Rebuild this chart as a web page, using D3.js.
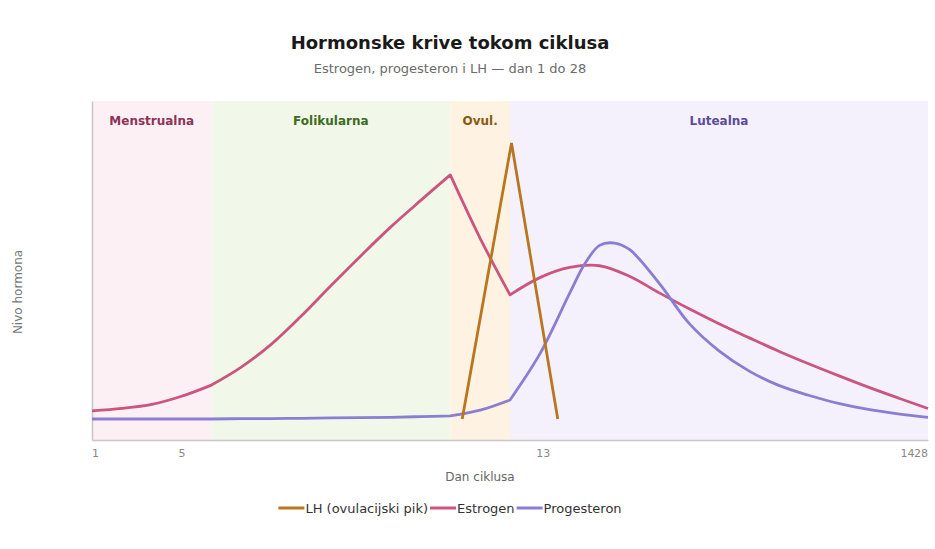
<!DOCTYPE html>
<html>
<head>
<meta charset="utf-8">
<script src="https://cdn.jsdelivr.net/npm/d3@7"></script>
<style>
  body { margin: 0; background: #fff; }
  text { font-family: "DejaVu Sans", sans-serif; }
</style>
</head>
<body>
<div id="chart-area"></div>
<script>
// phases (cycle position, 0 = start of day 1)
var phaseNames = ["Menstrualna", "Folikularna", "Ovul.", "Lutealna"];
var phaseStart = [0, 4, 12, 14];
var phaseEnd = [4, 12, 14, 28];

// x axis labels and where they sit on the axis
var tickLabels = ["1", "5", "13", "14", "28"];
var tickAt = [0.1, 3, 15.1, 27.3, 27.75];

// LH
var lhDays = [12.4, 14.05, 15.6];
var lhValues = [6.2, 87.6, 6.2];

// estrogen
var estrogenDays = [0, 1, 2, 3, 4, 5, 6, 7, 8, 9, 10, 11, 12, 13, 14, 15, 16, 17, 18, 19, 20, 21, 22, 23, 24, 25, 26, 27, 28];
var estrogenValues = [8.6, 9.3, 10.5, 12.9, 16.2, 21.5, 28.2, 36.5, 45.5, 54.3, 62.8, 70.6, 78.2, 59.5, 42.8, 47.9, 50.9, 51.4, 48.3, 43.4, 38.7, 34.3, 30.2, 26.2, 22.5, 19.0, 15.6, 12.4, 9.3];
var estrogenBreaks = [4, 12, 14];

// progesterone
var progDays = [0, 1, 2, 3, 4, 5, 6, 7, 8, 9, 10, 11, 12, 13, 14, 15, 16, 16.5, 17, 17.5, 18, 19, 20, 21, 22, 23, 24, 25, 26, 27, 28];
var progValues = [6.2, 6.2, 6.2, 6.2, 6.2, 6.3, 6.3, 6.4, 6.5, 6.6, 6.7, 6.9, 7.1, 8.8, 11.8, 25.4, 43.3, 51.9, 57.4, 58.1, 56.2, 46.2, 34.4, 26.3, 20.4, 16.1, 13.2, 10.8, 9.0, 7.7, 6.7];
var progBreaks = [12, 14];

var seriesNames = ["LH (ovulacijski pik)", "Estrogen", "Progesteron"];
var seriesColors = ["#b8771f", "#cc5580", "#8a7ed3"];
var phaseFills = ["#fdf0f5", "#f1f8ea", "#fef3e3", "#f4f1fd"];
var phaseText = ["#8e3356", "#3f6b1f", "#8a5a12", "#5b4c9c"];

var width = 935, height = 549;
var plotLeft = 92, plotRight = 928, plotTop = 101, plotBottom = 440;

var svg = d3.select("#chart-area").append("svg")
  .attr("width", width)
  .attr("height", height);

var x = d3.scaleLinear().domain([0, 28]).range([plotLeft, plotRight]);
var y = d3.scaleLinear().domain([0, 100]).range([plotBottom, plotTop]);

// phase bands
svg.selectAll("rect.phase")
  .data(phaseNames)
  .enter().append("rect")
  .attr("class", "phase")
  .attr("x", function (d, i) { return x(phaseStart[i]); })
  .attr("y", plotTop)
  .attr("width", function (d, i) { return x(phaseEnd[i]) - x(phaseStart[i]); })
  .attr("height", plotBottom - plotTop)
  .attr("fill", function (d, i) { return phaseFills[i]; });

svg.selectAll("text.phase")
  .data(phaseNames)
  .enter().append("text")
  .attr("class", "phase")
  .attr("x", function (d, i) { return (x(phaseStart[i]) + x(phaseEnd[i])) / 2; })
  .attr("y", 125)
  .attr("text-anchor", "middle")
  .style("font-size", "12px")
  .style("font-weight", "bold")
  .attr("fill", function (d, i) { return phaseText[i]; })
  .text(function (d) { return d; });

// axes
var xAxis = svg.append("g")
  .attr("transform", "translate(0," + plotBottom + ")")
  .call(d3.axisBottom(x).tickValues(tickAt).tickSize(0).tickSizeOuter(0).tickPadding(9)
    .tickFormat(function (d, i) { return tickLabels[i]; }));
xAxis.select(".domain").attr("stroke", "#c8c8c8").attr("stroke-width", 1.6);
xAxis.selectAll("text").attr("fill", "#888").style("font-size", "11px");

var yAxis = svg.append("g")
  .attr("transform", "translate(" + plotLeft + ",0)")
  .call(d3.axisLeft(y).tickValues([]).tickSizeOuter(0));
yAxis.select(".domain").attr("stroke", "#c8c8c8").attr("stroke-width", 1.6);

// lines: smooth pieces, joined with a corner at each break day
function segmentPath(days, values, breaks) {
  var pts = days.map(function (d, i) { return [d, values[i]]; });
  var cuts = [days[0]].concat(breaks, [days[days.length - 1]]);
  var line = d3.line()
    .x(function (d) { return x(d[0]); })
    .y(function (d) { return y(d[1]); })
    .curve(d3.curveCatmullRom.alpha(0.5));
  var path = "";
  for (var k = 0; k < cuts.length - 1; k++) {
    var seg = pts.filter(function (p) { return p[0] >= cuts[k] && p[0] <= cuts[k + 1]; });
    var s = line(seg);
    path += k === 0 ? s : "L" + s.slice(1);
  }
  return path;
}

var lhLine = d3.line()
  .x(function (d, i) { return x(lhDays[i]); })
  .y(function (d) { return y(d); });

svg.append("path")
  .attr("d", segmentPath(estrogenDays, estrogenValues, estrogenBreaks))
  .attr("fill", "none")
  .attr("stroke", seriesColors[1])
  .attr("stroke-width", 2.8)
  .attr("stroke-linejoin", "round");

svg.append("path")
  .attr("d", segmentPath(progDays, progValues, progBreaks))
  .attr("fill", "none")
  .attr("stroke", seriesColors[2])
  .attr("stroke-width", 2.8)
  .attr("stroke-linejoin", "round");

svg.append("path")
  .attr("d", lhLine(lhValues))
  .attr("fill", "none")
  .attr("stroke", seriesColors[0])
  .attr("stroke-width", 2.8)
  .attr("stroke-linejoin", "miter");

// titles
svg.append("text")
  .attr("x", 450).attr("y", 49)
  .attr("text-anchor", "middle")
  .style("font-size", "18px").style("font-weight", "bold")
  .attr("fill", "#1a1a1a")
  .text("Hormonske krive tokom ciklusa");

svg.append("text")
  .attr("x", 450).attr("y", 73)
  .attr("text-anchor", "middle")
  .style("font-size", "13px")
  .attr("fill", "#6b6b6b")
  .text("Estrogen, progesteron i LH \u2014 dan 1 do 28");

svg.append("text")
  .attr("x", 480).attr("y", 481)
  .attr("text-anchor", "middle")
  .style("font-size", "12px")
  .attr("fill", "#666")
  .text("Dan ciklusa");

svg.append("text")
  .attr("transform", "translate(22,292) rotate(-90)")
  .attr("text-anchor", "middle")
  .style("font-size", "12px")
  .attr("fill", "#777")
  .text("Nivo hormona");

// legend
var legend = svg.append("g").attr("transform", "translate(0,508)");
var lx = 0;
var items = legend.selectAll("g")
  .data(seriesNames)
  .enter().append("g");
items.append("line")
  .attr("x1", 0).attr("x2", 26)
  .attr("stroke", function (d, i) { return seriesColors[i]; })
  .attr("stroke-width", 3);
items.append("text")
  .attr("x", 27).attr("y", 5)
  .style("font-size", "13px")
  .attr("fill", "#333")
  .text(function (d) { return d; });
items.each(function () {
  var w = 27 + d3.select(this).select("text").node().getComputedTextLength();
  d3.select(this).attr("transform", "translate(" + lx + ",0)");
  lx += w + 2;
});
legend.attr("transform", "translate(" + (450 - (lx - 2) / 2) + ",508)");
</script>
</body>
</html>
